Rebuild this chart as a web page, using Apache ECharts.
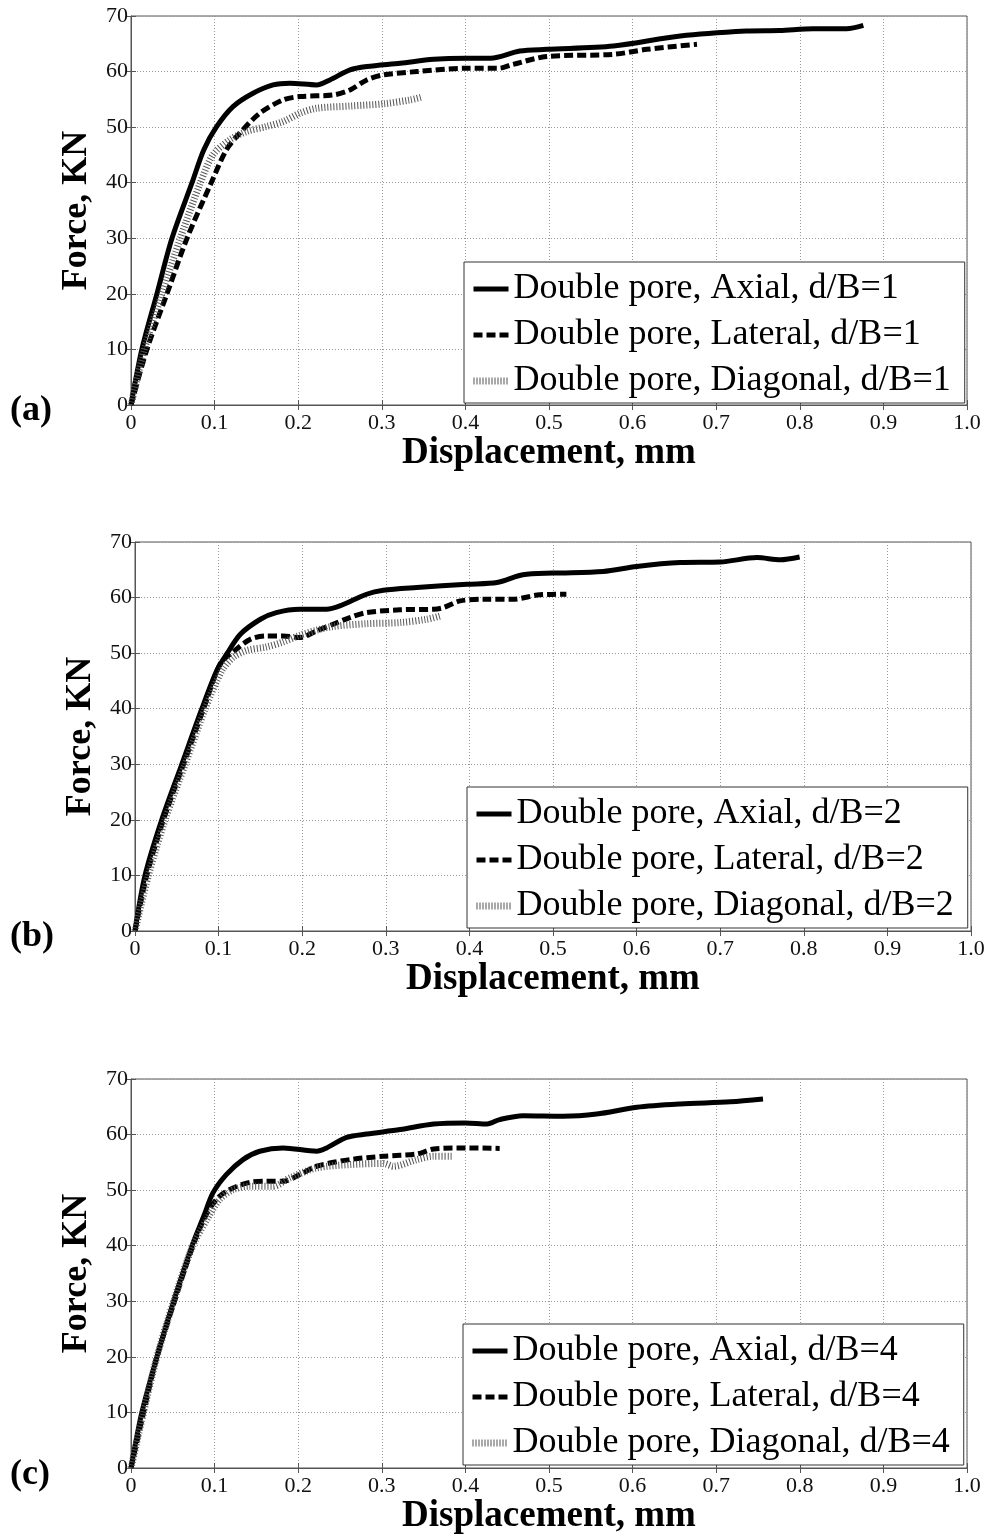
<!DOCTYPE html>
<html>
<head>
<meta charset="utf-8">
<script src="https://cdn.jsdelivr.net/npm/echarts@6/dist/echarts.min.js"></script>
<style>
html,body{margin:0;padding:0;background:#fff;}
#chart{width:989px;height:1536px;}
</style>
</head>
<body>
<div id="chart"></div>
<script>
// ---------- DATA ----------
const panelLabels = ['(a)', '(b)', '(c)'];
const dB = ['1', '2', '4'];
const xTicks = [0, 0.1, 0.2, 0.3, 0.4, 0.5, 0.6, 0.7, 0.8, 0.9, 1.0];
const yTicks = [0, 10, 20, 30, 40, 50, 60, 70];

// Panel (a) d/B=1  [displacement mm, force kN]
const axialA = [[0,0],[0.013,10],[0.031,20],[0.049,30],[0.073,40],[0.087,45.9],[0.102,50],[0.122,53.7],[0.146,56.1],[0.17,57.6],[0.19,57.9],[0.222,57.6],[0.238,58.5],[0.262,60.3],[0.282,60.9],[0.322,61.5],[0.362,62.2],[0.40,62.4],[0.43,62.4],[0.465,63.7],[0.497,64.0],[0.577,64.6],[0.657,66.4],[0.736,67.3],[0.776,67.4],[0.816,67.7],[0.856,67.7],[0.876,68.3]];
const lateralA = [[0,0],[0.019,10],[0.043,20],[0.067,30],[0.096,40],[0.114,45.9],[0.130,48.9],[0.154,52.5],[0.182,54.9],[0.202,55.5],[0.242,55.8],[0.262,56.7],[0.282,58.5],[0.302,59.4],[0.342,60.0],[0.40,60.6],[0.44,60.6],[0.457,61.3],[0.497,62.7],[0.577,63.1],[0.617,64.0],[0.677,64.9]];
const diagonalA = [[0,0],[0.016,10],[0.037,20],[0.059,30],[0.083,40],[0.098,45],[0.118,47.7],[0.138,49.2],[0.162,50.1],[0.182,51.0],[0.202,52.5],[0.222,53.4],[0.262,53.8],[0.302,54.2],[0.334,54.9],[0.348,55.4]];

// Panel (b) d/B=2
const axialB = [[0,0],[0.012,10],[0.032,20],[0.056,30],[0.080,40],[0.098,46.9],[0.110,49.9],[0.126,53.4],[0.150,56.1],[0.169,57.3],[0.197,57.9],[0.229,57.9],[0.245,58.5],[0.277,60.6],[0.297,61.3],[0.337,61.8],[0.397,62.4],[0.433,62.7],[0.464,64.1],[0.500,64.4],[0.560,64.7],[0.600,65.6],[0.652,66.3],[0.700,66.4],[0.744,67.2],[0.772,66.8],[0.795,67.3]];
const lateralB = [[0,0],[0.014,10],[0.034,20],[0.058,30],[0.082,40],[0.102,48.1],[0.118,50.3],[0.138,52.5],[0.157,53.1],[0.177,53.1],[0.197,52.8],[0.217,54.0],[0.237,55.2],[0.257,56.4],[0.277,57.3],[0.317,57.8],[0.357,57.9],[0.369,58.2],[0.389,59.4],[0.417,59.7],[0.452,59.7],[0.484,60.5],[0.516,60.6]];
const diagonalB = [[0,0],[0.016,10],[0.036,20],[0.060,30],[0.084,40],[0.104,46.9],[0.118,49.3],[0.134,50.5],[0.157,51.1],[0.177,52.0],[0.197,53.2],[0.217,54.1],[0.237,54.8],[0.277,55.3],[0.317,55.5],[0.349,56.1],[0.365,56.7]];

// Panel (c) d/B=4
const axialC = [[0,0],[0.013,10],[0.031,20],[0.051,30],[0.073,40],[0.087,45.3],[0.098,49.5],[0.114,52.8],[0.134,55.5],[0.154,57.0],[0.182,57.6],[0.222,57.0],[0.234,57.6],[0.258,59.5],[0.282,60.1],[0.322,60.9],[0.362,61.9],[0.40,62.1],[0.426,61.9],[0.441,62.7],[0.469,63.4],[0.517,63.3],[0.557,63.7],[0.605,64.9],[0.657,65.5],[0.717,65.9],[0.756,66.4]];
const lateralC = [[0,0],[0.015,10],[0.031,20],[0.052,30],[0.074,40],[0.091,45.9],[0.106,48.9],[0.122,50.4],[0.142,51.4],[0.162,51.6],[0.182,51.6],[0.202,52.8],[0.222,54.3],[0.262,55.5],[0.302,56.1],[0.342,56.5],[0.362,57.4],[0.40,57.6],[0.441,57.5]];
const diagonalC = [[0,0],[0.015,10],[0.031,20],[0.051,30],[0.074,40],[0.093,45.3],[0.106,48.3],[0.122,50.1],[0.142,50.7],[0.170,50.7],[0.190,52.2],[0.222,54.0],[0.262,54.6],[0.302,54.8],[0.314,54.3],[0.342,55.5],[0.362,56.1],[0.384,56.1]];

const panelData = [
  [axialA, lateralA, diagonalA],
  [axialB, lateralB, diagonalB],
  [axialC, lateralC, diagonalC]
];
const seriesKinds = ['Axial', 'Lateral', 'Diagonal'];

// ---------- LAYOUT / STYLE ----------
const FONT = '"Liberation Serif", "Times New Roman", serif';
const grids = [
  {left: 131, top: 16, width: 836, height: 389},
  {left: 135, top: 542, width: 836, height: 389},
  {left: 131, top: 1079, width: 836, height: 390}
];
const legendPos = [
  {left: 464, top: 262},
  {left: 467, top: 787},
  {left: 463, top: 1324}
];
const lineStyles = [
  {color: '#000', width: 5, type: 'solid'},
  {color: '#000', width: 5, type: [9, 4]},
  {color: '#555', width: 7, type: [1, 2]}
];

const option = {
  backgroundColor: '#fff',
  animation: false,
  grid: [], xAxis: [], yAxis: [], series: [], legend: [], graphic: []
};

grids.forEach((g, i) => {
  option.grid.push(Object.assign({show: true, borderColor: '#555', borderWidth: 1, backgroundColor: '#fff', containLabel: false}, g));
  option.xAxis.push({
    type: 'value', gridIndex: i, min: 0, max: 1, interval: 0.1,
    position: 'bottom',
    name: 'Displacement, mm', nameLocation: 'middle', nameGap: 30,
    nameTextStyle: {fontFamily: FONT, fontWeight: 'bold', fontSize: 37, color: '#000'},
    axisLine: {show: true, lineStyle: {color: '#555', width: 1}},
    axisTick: {show: true, inside: true, length: 5, lineStyle: {color: '#555'}},
    axisLabel: {fontFamily: FONT, fontSize: 22, color: '#111', margin: 7,
      formatter: v => (Math.abs(v) < 1e-9 ? '0' : v.toFixed(1))},
    splitLine: {show: true, lineStyle: {color: '#999', type: [1, 2], width: 1}}
  });
  option.xAxis.push({
    type: 'value', gridIndex: i, min: 0, max: 1, interval: 0.1, position: 'top',
    axisLine: {show: false}, axisTick: {show: true, inside: true, length: 5, lineStyle: {color: '#555'}},
    axisLabel: {show: false}, splitLine: {show: false}
  });
  option.yAxis.push({
    type: 'value', gridIndex: i, min: 0, max: 70, interval: 10, position: 'left',
    name: 'Force, KN', nameLocation: 'middle', nameGap: 22, nameRotate: 90,
    nameTextStyle: {fontFamily: FONT, fontWeight: 'bold', fontSize: 36, color: '#000'},
    axisLine: {show: true, lineStyle: {color: '#555', width: 1}},
    axisTick: {show: true, inside: true, length: 5, lineStyle: {color: '#555'}},
    axisLabel: {fontFamily: FONT, fontSize: 22, color: '#111', margin: 3},
    splitLine: {show: true, lineStyle: {color: '#999', type: [1, 2], width: 1}}
  });
  option.yAxis.push({
    type: 'value', gridIndex: i, min: 0, max: 70, interval: 10, position: 'right',
    axisLine: {show: false}, axisTick: {show: true, inside: true, length: 5, lineStyle: {color: '#555'}},
    axisLabel: {show: false}, splitLine: {show: false}
  });
  const legendData = [];
  panelData[i].forEach((d, k) => {
    const name = 'Double pore, ' + seriesKinds[k] + ', d/B=' + dB[i];
    legendData.push({
      name: name,
      itemStyle: {opacity: 0, color: 'transparent', borderWidth: 0},
      lineStyle: {color: lineStyles[k].color, width: lineStyles[k].width, type: lineStyles[k].type, cap: 'butt', opacity: 1}
    });
    option.series.push({
      type: 'line', name: name, data: d,
      xAxisIndex: 2 * i, yAxisIndex: 2 * i,
      symbol: 'none', smooth: 0.3,
      lineStyle: Object.assign({cap: 'butt', join: 'round'}, lineStyles[k]),
      itemStyle: {color: lineStyles[k].color},
      z: 3 + k
    });
  });
  option.legend.push(Object.assign({
    data: legendData, orient: 'vertical', itemWidth: 35, itemHeight: 14, itemGap: 6,
    padding: [7, 14, 2, 6], borderColor: '#333', borderWidth: 1, backgroundColor: '#fff',
    selectedMode: false,
    textStyle: {fontFamily: FONT, fontSize: 36, color: '#000', lineHeight: 40}
  }, legendPos[i]));
  option.graphic.push({
    type: 'text', left: 10, top: g.top + g.height - 12,
    style: {text: panelLabels[i], font: 'bold 36px ' + FONT, fill: '#000'}
  });
});

const chart = echarts.init(document.getElementById('chart'), null, {renderer: 'canvas'});
chart.setOption(option);
</script>
</body>
</html>
